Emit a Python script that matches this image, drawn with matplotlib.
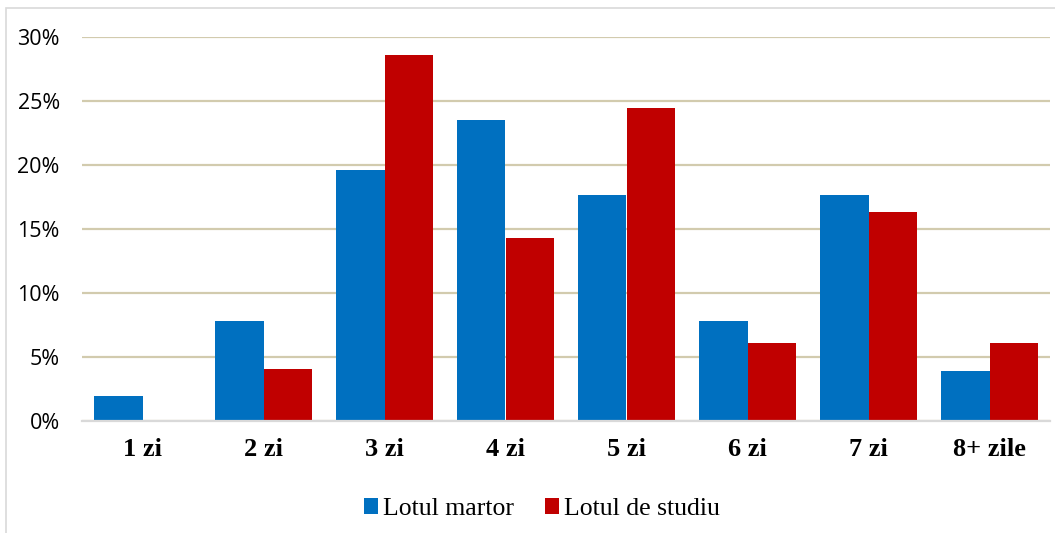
import matplotlib.pyplot as plt
import numpy as np
from matplotlib.patches import Rectangle
from matplotlib.ticker import FuncFormatter

categories = ["1 zi", "2 zi", "3 zi", "4 zi", "5 zi", "6 zi", "7 zi", "8+ zile"]
lotul_martor = [1.96, 7.84, 19.61, 23.53, 17.65, 7.84, 17.65, 3.92]
lotul_studiu = [0.0, 4.08, 28.57, 14.29, 24.49, 6.12, 16.33, 6.12]

plt.rcParams["font.serif"] = ["Liberation Serif", "DejaVu Serif"]

W, H = 1055, 533
fig = plt.figure(figsize=(W / 100, H / 100), dpi=100)

# light frame around the chart area (as in the source image)
fig.patches.append(Rectangle((6 / W, -0.1), 1.2, 1.1 - 8 / H, transform=fig.transFigure,
                             fill=False, edgecolor="#D9D9D9", linewidth=1.2))

ax = fig.add_axes([82 / W, 1 - 421 / H, (1050 - 82) / W, (421 - 37) / H])

x = np.arange(len(categories))
width = 0.4
ax.bar(x - width / 2, lotul_martor, width, color="#0070C0", label="Lotul martor", zorder=3)
ax.bar(x + width / 2, lotul_studiu, width, color="#C00000", label="Lotul de studiu", zorder=3)

ax.set_xlim(-0.5, len(categories) - 0.5)
ax.set_ylim(0, 30)
ax.set_yticks(np.arange(0, 31, 5))
ax.yaxis.set_major_formatter(FuncFormatter(lambda v, p: f"{v:.0f}%"))
ax.grid(axis="y", color="#D2CBAE", linewidth=1.6, zorder=0)

for side in ["top", "right", "left"]:
    ax.spines[side].set_visible(False)
ax.spines["bottom"].set_color("#D9D9D9")
ax.spines["bottom"].set_linewidth(1.6)
ax.spines["bottom"].set_zorder(4)

ax.set_xticks(x)
ax.set_xticklabels(categories, family="serif", fontweight="bold", fontsize=19)
ax.tick_params(axis="x", length=0, pad=12)
ax.tick_params(axis="y", length=0, pad=16, labelsize=15.5)
for lbl in ax.get_yticklabels():
    lbl.set_family("Open Sans")

leg = fig.legend(loc="center", bbox_to_anchor=(542 / W, 1 - 509 / H), ncol=2, frameon=False,
                 prop={"family": "serif", "size": 18.5},
                 handlelength=0.55, handleheight=0.55, handletextpad=0.2, columnspacing=1.2)

fig.savefig("out.png", dpi=100)
